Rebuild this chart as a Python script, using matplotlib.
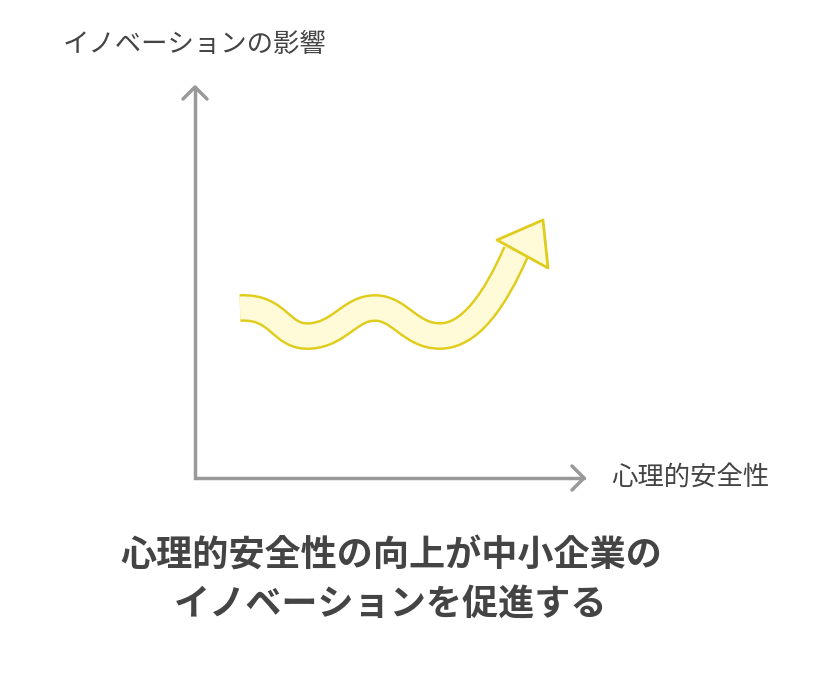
import matplotlib.pyplot as plt
from matplotlib.path import Path
from matplotlib.patches import PathPatch, Polygon

plt.rcParams['font.family'] = ['Noto Sans CJK JP', 'DejaVu Sans']

y_label = "イノベーションの影響"
x_label = "心理的安全性"
title_lines = ["心理的安全性の向上が中小企業の", "イノベーションを促進する"]

# wave centreline (bezier control points, pixel coords)
wave_pts = [(240, 308), (280, 306), (280, 338), (310, 336),
            (340, 334), (350, 308), (375, 308),
            (400, 308), (410, 336), (440, 336),
            (470, 336), (495, 300), (516, 252)]
head_pts = [(543, 220), (497, 240), (548, 268)]

fig = plt.figure(figsize=(8.25, 6.74), dpi=100)
ax = fig.add_axes([0, 0, 1, 1])
ax.set_xlim(0, 825)
ax.set_ylim(674, 0)
ax.axis('off')

axis_col = '#999999'
ax.plot([195, 195, 584], [87, 478, 478], color=axis_col, lw=2.5,
        solid_joinstyle='miter', solid_capstyle='round')
ax.plot([183, 195, 207], [99, 87, 99], color=axis_col, lw=2.5, solid_capstyle='round')
ax.plot([572, 584, 572], [466, 478, 490], color=axis_col, lw=2.5, solid_capstyle='round')

codes = [Path.MOVETO] + [Path.CURVE4] * (len(wave_pts) - 1)
path = Path(wave_pts, codes)
edge_col = '#e0cc1c'
fill_col = '#fffbd8'
ax.add_patch(PathPatch(path, fill=False, ec=edge_col, lw=20, capstyle='butt'))
ax.add_patch(PathPatch(path, fill=False, ec=fill_col, lw=16.5, capstyle='butt'))
ax.add_patch(Polygon(head_pts, closed=True, fc=fill_col, ec=edge_col, lw=2, joinstyle='round'))

txt = '#444444'
ax.text(63, 45, y_label, fontsize=19, color=txt, ha='left', va='center')
ax.text(611, 477, x_label, fontsize=19, color=txt, ha='left', va='center')
ax.text(391, 556, title_lines[0], fontsize=26, fontweight='bold', color=txt, ha='center', va='center')
ax.text(391, 605, title_lines[1], fontsize=26, fontweight='bold', color=txt, ha='center', va='center')

fig.savefig('out.png', dpi=100)
